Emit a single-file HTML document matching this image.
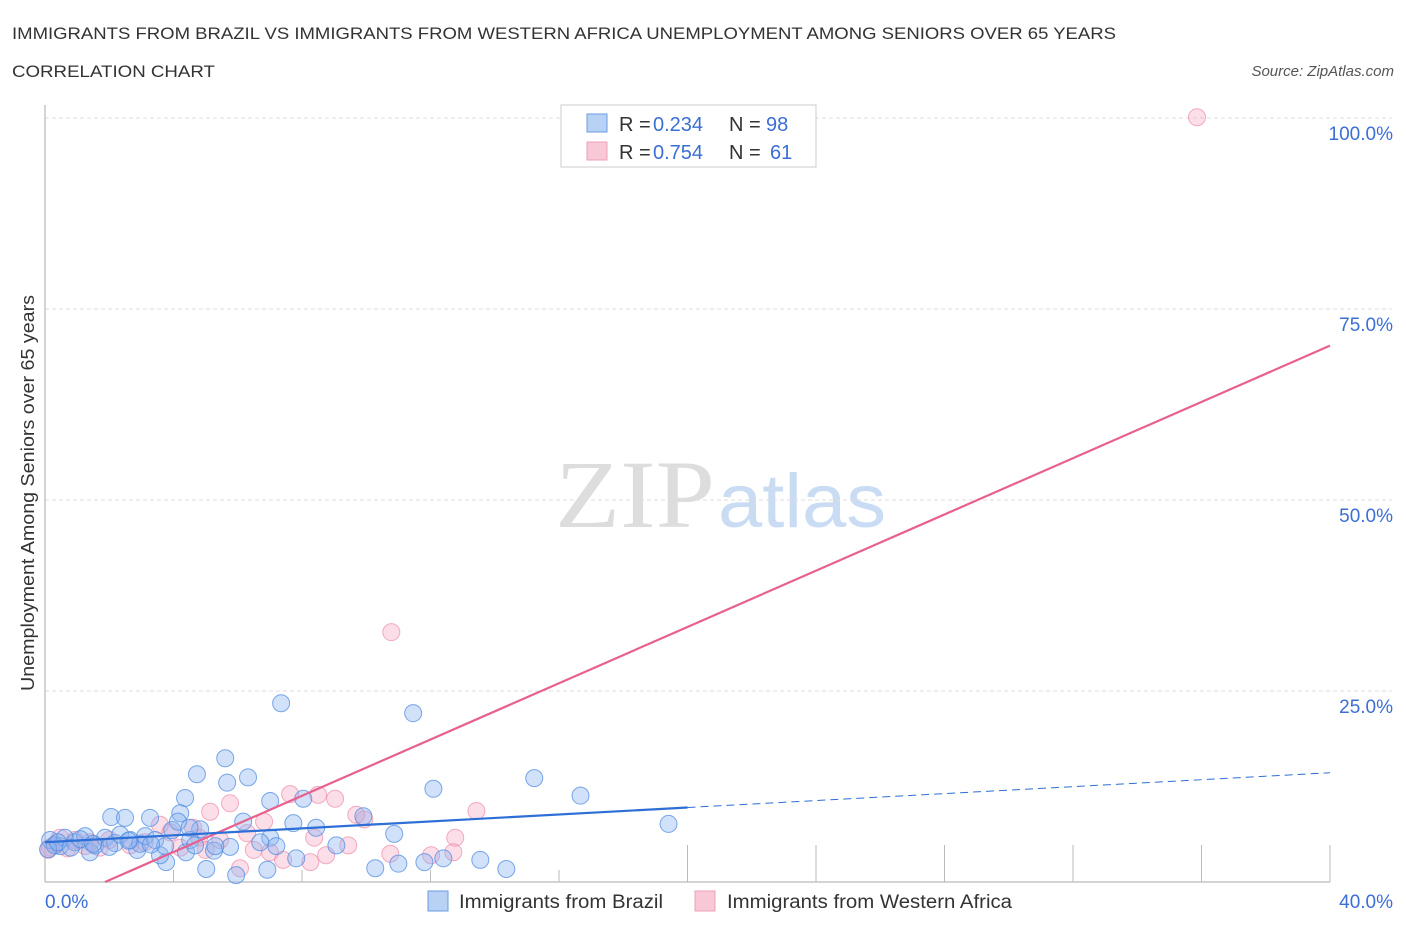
<!DOCTYPE html>
<html><head><meta charset="utf-8"><style>
body{margin:0;background:#fff;font-family:"Liberation Sans",sans-serif;}
svg{display:block}
</style></head><body>
<svg id="chart" width="1406" height="930" xmlns="http://www.w3.org/2000/svg" font-family="Liberation Sans, sans-serif">
<text x="12" y="39" font-size="17" fill="#333" textLength="1104" lengthAdjust="spacingAndGlyphs">IMMIGRANTS FROM BRAZIL VS IMMIGRANTS FROM WESTERN AFRICA UNEMPLOYMENT AMONG SENIORS OVER 65 YEARS</text>
<text x="12" y="77" font-size="17" fill="#333" textLength="203" lengthAdjust="spacingAndGlyphs">CORRELATION CHART</text>
<text x="1394" y="76" font-size="15" fill="#555" font-style="italic" text-anchor="end">Source: ZipAtlas.com</text>
<text x="555" y="527" font-size="96" fill="#ddd" font-family="Liberation Serif, serif" textLength="160" lengthAdjust="spacingAndGlyphs">ZIP</text>
<text x="718" y="527" font-size="76" fill="#c9dcf3" textLength="168" lengthAdjust="spacingAndGlyphs">atlas</text>
<text transform="translate(34,493) rotate(-90)" font-size="18" fill="#333" text-anchor="middle" textLength="396" lengthAdjust="spacingAndGlyphs">Unemployment Among Seniors over 65 years</text>
<g id="grid"></g><g id="ticks"></g><g id="pts"></g><g id="lines"></g>
<g>
<rect x="561" y="105" width="255" height="62" fill="#fff" stroke="#ccc"/>
<rect x="587" y="114" width="20" height="18" fill="#b8d2f5" stroke="#6a9be0"/>
<rect x="587" y="142" width="20" height="18" fill="#f9c8d7" stroke="#f0a0b8"/>
<text x="619" y="131" font-size="20" fill="#333">R = </text><text x="653" y="131" font-size="20" fill="#3b6fd4">0.234</text>
<text x="729" y="131" font-size="20" fill="#333">N = </text><text x="766" y="131" font-size="20" fill="#3b6fd4">98</text>
<text x="619" y="159" font-size="20" fill="#333">R = </text><text x="653" y="159" font-size="20" fill="#3b6fd4">0.754</text>
<text x="729" y="159" font-size="20" fill="#333">N = </text><text x="770" y="159" font-size="20" fill="#3b6fd4">61</text>
</g>
<g>
<rect x="428" y="891" width="20" height="20" fill="#b8d2f5" stroke="#6a9be0"/>
<text x="459" y="908" font-size="19" fill="#333" textLength="204" lengthAdjust="spacingAndGlyphs">Immigrants from Brazil</text>
<rect x="695" y="891" width="20" height="20" fill="#f9c8d7" stroke="#f0a0b8"/>
<text x="727" y="908" font-size="19" fill="#333" textLength="285" lengthAdjust="spacingAndGlyphs">Immigrants from Western Africa</text>
</g>
</svg>
<script>
const yTicks=[25,50,75,100];
const yTickLabels=["25.0%","50.0%","75.0%","100.0%"];
const xTickLabels=["0.0%","40.0%"];
const brazilX=[7.35,11.46,5.61,4.73,6.32,5.67,15.23,12.09,16.67,4.36,7.01,8.04,2.06,2.49,3.27,4.21,6.17,9.91,7.73,8.44,19.41,10.87,4.83,7.01,9.07,5.26,5.76,3.77,5.02,5.95,6.92,10.28,11.0,11.81,12.4,13.55,14.36,7.82,3.58,4.39,2.87,1.4,0.47,0.16,0.3,0.62,0.93,1.25,1.56,1.87,2.18,2.34,2.65,2.96,3.12,3.43,3.74,3.96,4.14,4.52,4.67,5.3,4.5,6.7,7.2,0.1,0.4,0.8,1.1,1.5,2.0,2.6,3.3];
const brazilY=[23.4,22.1,16.2,14.1,13.7,13.0,13.6,12.2,11.3,11.0,10.6,10.9,8.5,8.4,8.4,9.0,7.9,8.6,7.7,7.1,7.6,6.3,6.9,5.8,4.8,4.1,4.6,2.6,1.7,0.9,1.6,1.8,2.4,2.6,3.1,2.9,1.7,3.1,3.5,3.9,4.2,3.9,4.7,5.5,4.8,5.8,5.2,6.0,4.8,5.8,5.1,6.2,5.5,5.0,6.0,5.5,4.7,6.8,7.9,5.5,4.8,4.7,7.1,5.2,4.7,4.3,5.2,4.5,5.6,5.0,4.6,5.4,4.9];
const africaX=[35.86,10.78,7.63,8.5,9.03,13.43,5.76,5.14,9.69,9.94,6.82,3.58,4.61,6.29,8.38,12.77,9.44,10.75,12.02,12.71,6.07,7.41,8.26,8.75,7.0,4.21,2.65,1.71,0.93,0.16,0.1,0.47,1.25,2.0,3.1,3.9,4.8,5.45,6.5,5.0,0.3,0.7,1.4];
const africaY=[100.1,32.7,11.5,11.4,10.9,9.3,10.3,9.2,8.8,8.2,7.9,7.5,7.1,6.4,5.8,5.8,4.8,3.7,3.5,3.9,1.8,2.9,2.6,3.5,3.9,4.5,4.8,4.5,5.5,4.5,4.2,5.8,4.7,5.5,5.2,6.5,5.8,5.5,4.2,4.2,4.9,4.4,5.2];
const brazilTrend=[5.2,0.2275];
const africaTrend=[-3.44,1.841];
const NS="http://www.w3.org/2000/svg";
const sx=v=>45+v*32.125, sy=v=>882-v*7.64;
function mk(t,a,p){const e=document.createElementNS(NS,t);for(const k in a)e.setAttribute(k,a[k]);p.appendChild(e);return e;}
const grid=document.getElementById('grid'),ticks=document.getElementById('ticks');
yTicks.forEach((v,i)=>{
 const l=mk('line',{x1:45,x2:1392,y1:sy(v),y2:sy(v),stroke:'#ddd','stroke-dasharray':'4,3'},grid);
 
 
 const t=mk('text',{x:1393,y:sy(v)+22,'font-size':19,fill:'#3b6fd4','text-anchor':'end'},ticks);t.textContent=yTickLabels[i];
 
 
});
mk('line',{x1:45,x2:45,y1:105,y2:882,stroke:'#aaa'},ticks);
mk('line',{x1:45,x2:1330,y1:882,y2:882,stroke:'#aaa'},ticks);
for(let i=1;i<=10;i++){const x=sx(i*4);const l=mk('line',{x1:x,x2:x,y1:i<5?870:845,y2:882,stroke:'#bbb'},ticks);
 
 }
let t0=mk('text',{x:45,y:908,'font-size':19,fill:'#3b6fd4'},ticks);t0.textContent=xTickLabels[0];


let t1=mk('text',{x:1393,y:908,'font-size':19,fill:'#3b6fd4','text-anchor':'end'},ticks);t1.textContent=xTickLabels[1];


const pts=document.getElementById('pts');
africaX.forEach((x,i)=>{const c=mk('circle',{cx:sx(x),cy:sy(africaY[i]),r:8.5,fill:'rgba(245,160,190,0.35)',stroke:'rgba(236,140,170,0.7)'},pts);
 
 });
brazilX.forEach((x,i)=>{const c=mk('circle',{cx:sx(x),cy:sy(brazilY[i]),r:8.5,fill:'rgba(140,180,240,0.4)',stroke:'rgba(80,140,225,0.75)'},pts);
 
 });
const lines=document.getElementById('lines');
const x0=-africaTrend[0]/africaTrend[1];
let pl=mk('line',{x1:sx(x0),y1:sy(0),x2:sx(40),y2:sy(africaTrend[0]+africaTrend[1]*40),stroke:'#e8608e','stroke-width':2.2},lines);


let bl=mk('line',{x1:sx(0),y1:sy(brazilTrend[0]),x2:sx(20),y2:sy(brazilTrend[0]+brazilTrend[1]*20),stroke:'#2d6fd6','stroke-width':2.2},lines);


let bd=mk('line',{x1:sx(20),y1:sy(brazilTrend[0]+brazilTrend[1]*20),x2:sx(40),y2:sy(brazilTrend[0]+brazilTrend[1]*40),stroke:'#2d6fd6','stroke-width':1,'stroke-dasharray':'8,5'},lines);


</script>
</body></html>
